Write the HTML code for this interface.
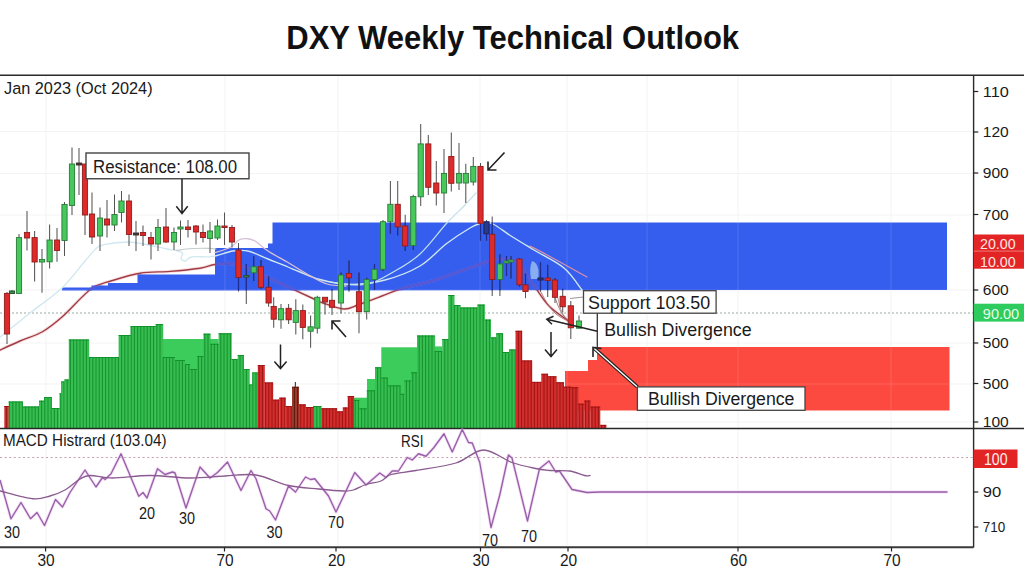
<!DOCTYPE html>
<html><head><meta charset="utf-8"><title>DXY Weekly Technical Outlook</title>
<style>html,body{margin:0;padding:0;background:#fff;width:1024px;height:576px;overflow:hidden}svg{display:block}</style>
</head><body>
<svg width="1024" height="576" viewBox="0 0 1024 576" font-family='"Liberation Sans", sans-serif'><g stroke="#f3f3f3" stroke-width="1"><line x1="46" y1="76" x2="46" y2="547" /><line x1="225" y1="76" x2="225" y2="547" /><line x1="338" y1="76" x2="338" y2="547" /><line x1="480" y1="76" x2="480" y2="547" /><line x1="567" y1="76" x2="567" y2="547" /><line x1="647" y1="76" x2="647" y2="547" /><line x1="738" y1="76" x2="738" y2="547" /><line x1="891" y1="76" x2="891" y2="547" /><line x1="0" y1="131.5" x2="973" y2="131.5" /><line x1="0" y1="173.5" x2="973" y2="173.5" /><line x1="0" y1="215" x2="973" y2="215" /><line x1="0" y1="290" x2="973" y2="290" /><line x1="0" y1="343" x2="973" y2="343" /><line x1="0" y1="384" x2="973" y2="384" /><line x1="0" y1="422" x2="973" y2="422" /></g>
<line x1="0" y1="313" x2="973" y2="313" stroke="#9aaa9e" stroke-width="1" stroke-dasharray="2,2"/>
<defs><clipPath id="bz"><polygon points="62,290.5 62,287.5 91.5,287.5 91.5,285.5 108,285.5 108,283 137.5,283 137.5,274.5 215,274.5 215,248 268,248 268,243.5 272.5,243.5 272.5,222.5 947,222.5 947,290 62,290.5"/></clipPath></defs>
<polygon fill="#365eee" points="62,290.5 62,287.5 91.5,287.5 91.5,285.5 108,285.5 108,283 137.5,283 137.5,274.5 215,274.5 215,248 268,248 268,243.5 272.5,243.5 272.5,222.5 947,222.5 947,290 62,290.5"/>
<polygon fill="#fc4a40" points="565,410.5 565,371 588,371 588,360 597,360 597,347 949.5,347 949.5,410.5"/>
<g stroke="#ffffff" stroke-opacity="0.13" stroke-width="1"><line x1="46" y1="222" x2="46" y2="411" /><line x1="225" y1="222" x2="225" y2="411" /><line x1="338" y1="222" x2="338" y2="411" /><line x1="480" y1="222" x2="480" y2="411" /><line x1="567" y1="222" x2="567" y2="411" /><line x1="647" y1="222" x2="647" y2="411" /><line x1="738" y1="222" x2="738" y2="411" /><line x1="891" y1="222" x2="891" y2="411" /><line x1="0" y1="290" x2="973" y2="290" /><line x1="0" y1="343" x2="973" y2="343" /><line x1="0" y1="384" x2="973" y2="384" /></g>
<rect x="163" y="339" width="55.599999999999994" height="89" fill="#3ccc5c"/>
<rect x="354" y="397.7" width="13" height="30.30000000000001" fill="#3ccc5c"/>
<rect x="367" y="379" width="8" height="49" fill="#3ccc5c"/>
<rect x="381.3" y="347.3" width="35.69999999999999" height="80.69999999999999" fill="#3ccc5c"/>
<rect x="434.9" y="346.4" width="7.300000000000011" height="81.60000000000002" fill="#3ccc5c"/>
<rect x="4.3" y="406" width="4.6" height="22" fill="#d22e2e"/>
<rect x="8.7" y="401.5" width="14.0" height="26.5" fill="#38be52"/>
<rect x="22.5" y="406.5" width="16.7" height="21.5" fill="#38be52"/>
<rect x="39" y="400.7" width="5.2" height="27.30000000000001" fill="#38be52"/>
<rect x="44" y="397" width="7.800000000000002" height="31" fill="#38be52"/>
<rect x="51.6" y="408" width="8.099999999999998" height="20" fill="#38be52"/>
<rect x="59.5" y="393.4" width="1.7" height="34.60000000000002" fill="#38be52"/>
<rect x="61" y="381.5" width="3.600000000000006" height="46.5" fill="#38be52"/>
<rect x="64.4" y="379.5" width="4.599999999999992" height="48.5" fill="#38be52"/>
<rect x="68.8" y="339.5" width="20.400000000000002" height="88.5" fill="#38be52"/>
<rect x="89" y="357" width="29.799999999999994" height="71" fill="#38be52"/>
<rect x="118.6" y="335" width="12.299999999999994" height="93" fill="#38be52"/>
<rect x="130.7" y="326" width="25.2" height="102" fill="#38be52"/>
<rect x="155.7" y="324" width="7.5000000000000115" height="104" fill="#38be52"/>
<rect x="163" y="357" width="12.2" height="71" fill="#38be52"/>
<rect x="175" y="360" width="10.2" height="68" fill="#38be52"/>
<rect x="185" y="364" width="5.2" height="64" fill="#38be52"/>
<rect x="190" y="369" width="7.2" height="59" fill="#38be52"/>
<rect x="197" y="356" width="6.7" height="72" fill="#38be52"/>
<rect x="203.5" y="333.7" width="7.100000000000006" height="94.30000000000001" fill="#38be52"/>
<rect x="210.4" y="343.8" width="8.399999999999988" height="84.19999999999999" fill="#38be52"/>
<rect x="218.6" y="333.3" width="13.100000000000005" height="94.69999999999999" fill="#38be52"/>
<rect x="231.5" y="359" width="6.399999999999989" height="69" fill="#38be52"/>
<rect x="237.7" y="355" width="6.100000000000006" height="73" fill="#38be52"/>
<rect x="243.6" y="369" width="6.100000000000006" height="59" fill="#38be52"/>
<rect x="249.5" y="384.5" width="3.100000000000006" height="43.5" fill="#38be52"/>
<rect x="252.4" y="372.5" width="5.600000000000006" height="55.5" fill="#38be52"/>
<rect x="257.8" y="365" width="7.0000000000000115" height="63" fill="#d22e2e"/>
<rect x="264.6" y="382.5" width="8.599999999999977" height="45.5" fill="#d22e2e"/>
<rect x="273" y="399.7" width="6.5000000000000115" height="28.30000000000001" fill="#d22e2e"/>
<rect x="279.3" y="397.7" width="6.399999999999989" height="30.30000000000001" fill="#d22e2e"/>
<rect x="285.5" y="406" width="6.7" height="22" fill="#d22e2e"/>
<rect x="292" y="386.8" width="7.0000000000000115" height="41.19999999999999" fill="#9a3a2a"/>
<rect x="298.8" y="404.4" width="7.099999999999977" height="23.600000000000023" fill="#d22e2e"/>
<rect x="305.7" y="407" width="8.00000000000001" height="21" fill="#d22e2e"/>
<rect x="313.5" y="406" width="8.00000000000001" height="22" fill="#38be52"/>
<rect x="321.3" y="408.3" width="15.899999999999988" height="19.69999999999999" fill="#d22e2e"/>
<rect x="337" y="411.4" width="6.0000000000000115" height="16.600000000000023" fill="#d22e2e"/>
<rect x="342.8" y="407.5" width="5.099999999999977" height="20.5" fill="#d22e2e"/>
<rect x="347.7" y="396" width="6.5000000000000115" height="32" fill="#d22e2e"/>
<rect x="354" y="400" width="5.599999999999977" height="28" fill="#38be52"/>
<rect x="359.4" y="408.3" width="7.600000000000034" height="19.69999999999999" fill="#38be52"/>
<rect x="366.8" y="390.3" width="8.399999999999988" height="37.69999999999999" fill="#38be52"/>
<rect x="375" y="367.3" width="6.5000000000000115" height="60.69999999999999" fill="#38be52"/>
<rect x="381.3" y="377.6" width="6.599999999999977" height="50.39999999999998" fill="#38be52"/>
<rect x="387.7" y="385.4" width="12.899999999999988" height="42.60000000000002" fill="#38be52"/>
<rect x="400.4" y="393.8" width="4.100000000000034" height="34.19999999999999" fill="#38be52"/>
<rect x="404.3" y="380.5" width="7.0000000000000115" height="47.5" fill="#38be52"/>
<rect x="411.1" y="372.3" width="6.099999999999977" height="55.69999999999999" fill="#38be52"/>
<rect x="417" y="335.5" width="18.099999999999977" height="92.5" fill="#38be52"/>
<rect x="434.9" y="351" width="7.5000000000000115" height="77" fill="#38be52"/>
<rect x="442.2" y="339" width="6.2" height="89" fill="#38be52"/>
<rect x="448.2" y="295" width="6.300000000000023" height="133" fill="#38be52"/>
<rect x="454.3" y="305" width="6.299999999999966" height="123" fill="#38be52"/>
<rect x="460.4" y="307.5" width="17.2" height="120.5" fill="#38be52"/>
<rect x="477.4" y="304.6" width="7.5000000000000115" height="123.39999999999998" fill="#38be52"/>
<rect x="484.7" y="319.6" width="6.300000000000023" height="108.39999999999998" fill="#38be52"/>
<rect x="490.8" y="337.4" width="5.5000000000000115" height="90.60000000000002" fill="#38be52"/>
<rect x="496.1" y="333.3" width="6.999999999999955" height="94.69999999999999" fill="#38be52"/>
<rect x="502.9" y="352" width="6.300000000000023" height="76" fill="#38be52"/>
<rect x="509" y="349.5" width="6.7" height="78.5" fill="#38be52"/>
<rect x="515.5" y="330.8" width="6.599999999999977" height="97.19999999999999" fill="#d22e2e"/>
<rect x="521.9" y="360.5" width="10.300000000000022" height="67.5" fill="#d22e2e"/>
<rect x="532" y="381.9" width="9.499999999999954" height="46.10000000000002" fill="#d22e2e"/>
<rect x="541.3" y="373.8" width="6.800000000000023" height="54.19999999999999" fill="#d22e2e"/>
<rect x="547.9" y="376.3" width="8.7" height="51.69999999999999" fill="#d22e2e"/>
<rect x="556.4" y="382.3" width="7.500000000000068" height="45.69999999999999" fill="#d22e2e"/>
<rect x="563.7" y="386.7" width="7.499999999999955" height="41.30000000000001" fill="#d22e2e"/>
<rect x="571" y="387.2" width="7.400000000000046" height="40.80000000000001" fill="#d22e2e"/>
<rect x="578.2" y="403.7" width="6.299999999999909" height="24.30000000000001" fill="#d22e2e"/>
<rect x="584.3" y="400.6" width="6.300000000000023" height="27.399999999999977" fill="#d22e2e"/>
<rect x="590.4" y="406.6" width="9.900000000000045" height="21.399999999999977" fill="#d22e2e"/>
<rect x="600.1" y="424.9" width="6.300000000000023" height="3.1000000000000227" fill="#d22e2e"/>
<path d="M9.60 401.5V428M12.80 401.5V428M16.00 401.5V428M19.20 401.5V428M22.40 401.5V428M8.7 402.0H22.5M25.60 406.5V428M28.80 406.5V428M32.00 406.5V428M35.20 406.5V428M38.40 406.5V428M22.5 407.0H39M41.60 400.7V428M39 401.2H44M44.80 397V428M48.00 397V428M51.20 397V428M44 397.5H51.6M54.40 408V428M57.60 408V428M51.6 408.5H59.5M60.80 393.4V428M59.5 393.9H61M64.00 381.5V428M61 382.0H64.4M67.20 379.5V428M64.4 380.0H68.8M70.40 339.5V428M73.60 339.5V428M76.80 339.5V428M80.00 339.5V428M83.20 339.5V428M86.40 339.5V428M68.8 340.0H89M89.60 357V428M92.80 357V428M96.00 357V428M99.20 357V428M102.40 357V428M105.60 357V428M108.80 357V428M112.00 357V428M115.20 357V428M118.40 357V428M89 357.5H118.6M121.60 335V428M124.80 335V428M128.00 335V428M118.6 335.5H130.7M131.20 326V428M134.40 326V428M137.60 326V428M140.80 326V428M144.00 326V428M147.20 326V428M150.40 326V428M153.60 326V428M130.7 326.5H155.7M156.80 324V428M160.00 324V428M155.7 324.5H163M163.20 357V428M166.40 357V428M169.60 357V428M172.80 357V428M163 357.5H175M176.00 360V428M179.20 360V428M182.40 360V428M175 360.5H185M185.60 364V428M188.80 364V428M185 364.5H190M192.00 369V428M195.20 369V428M190 369.5H197M198.40 356V428M201.60 356V428M197 356.5H203.5M204.80 333.7V428M208.00 333.7V428M203.5 334.2H210.4M211.20 343.8V428M214.40 343.8V428M217.60 343.8V428M210.4 344.3H218.6M220.80 333.3V428M224.00 333.3V428M227.20 333.3V428M230.40 333.3V428M218.6 333.8H231.5M233.60 359V428M236.80 359V428M231.5 359.5H237.7M240.00 355V428M243.20 355V428M237.7 355.5H243.6M246.40 369V428M243.6 369.5H249.5M249.60 384.5V428M249.5 385.0H252.4M252.80 372.5V428M256.00 372.5V428M252.4 373.0H257.8M313.60 406V428M316.80 406V428M320.00 406V428M313.5 406.5H321.3M355.20 400V428M358.40 400V428M354 400.5H359.4M361.60 408.3V428M364.80 408.3V428M359.4 408.8H366.8M368.00 390.3V428M371.20 390.3V428M374.40 390.3V428M366.8 390.8H375M377.60 367.3V428M380.80 367.3V428M375 367.8H381.3M384.00 377.6V428M387.20 377.6V428M381.3 378.1H387.7M390.40 385.4V428M393.60 385.4V428M396.80 385.4V428M400.00 385.4V428M387.7 385.9H400.4M403.20 393.8V428M400.4 394.3H404.3M406.40 380.5V428M409.60 380.5V428M404.3 381.0H411.1M412.80 372.3V428M416.00 372.3V428M411.1 372.8H417M419.20 335.5V428M422.40 335.5V428M425.60 335.5V428M428.80 335.5V428M432.00 335.5V428M417 336.0H434.9M435.20 351V428M438.40 351V428M441.60 351V428M434.9 351.5H442.2M444.80 339V428M448.00 339V428M442.2 339.5H448.2M451.20 295V428M448.2 295.5H454.3M454.40 305V428M457.60 305V428M454.3 305.5H460.4M460.80 307.5V428M464.00 307.5V428M467.20 307.5V428M470.40 307.5V428M473.60 307.5V428M476.80 307.5V428M460.4 308.0H477.4M480.00 304.6V428M483.20 304.6V428M477.4 305.1H484.7M486.40 319.6V428M489.60 319.6V428M484.7 320.1H490.8M492.80 337.4V428M496.00 337.4V428M490.8 337.9H496.1M499.20 333.3V428M502.40 333.3V428M496.1 333.8H502.9M505.60 352V428M508.80 352V428M502.9 352.5H509M512.00 349.5V428M515.20 349.5V428M509 350.0H515.5" stroke="#12922b" stroke-width="1" fill="none"/>
<path d="M6.40 406V428M4.3 406.5H8.7M259.20 365V428M262.40 365V428M257.8 365.5H264.6M265.60 382.5V428M268.80 382.5V428M272.00 382.5V428M264.6 383.0H273M275.20 399.7V428M278.40 399.7V428M273 400.2H279.3M281.60 397.7V428M284.80 397.7V428M279.3 398.2H285.5M288.00 406V428M291.20 406V428M285.5 406.5H292M300.80 404.4V428M304.00 404.4V428M298.8 404.9H305.7M307.20 407V428M310.40 407V428M305.7 407.5H313.5M323.20 408.3V428M326.40 408.3V428M329.60 408.3V428M332.80 408.3V428M336.00 408.3V428M321.3 408.8H337M339.20 411.4V428M342.40 411.4V428M337 411.9H342.8M345.60 407.5V428M342.8 408.0H347.7M348.80 396V428M352.00 396V428M347.7 396.5H354M518.40 330.8V428M521.60 330.8V428M515.5 331.3H521.9M524.80 360.5V428M528.00 360.5V428M531.20 360.5V428M521.9 361.0H532M534.40 381.9V428M537.60 381.9V428M540.80 381.9V428M532 382.4H541.3M544.00 373.8V428M547.20 373.8V428M541.3 374.3H547.9M550.40 376.3V428M553.60 376.3V428M547.9 376.8H556.4M556.80 382.3V428M560.00 382.3V428M563.20 382.3V428M556.4 382.8H563.7M566.40 386.7V428M569.60 386.7V428M563.7 387.2H571M572.80 387.2V428M576.00 387.2V428M571 387.7H578.2M579.20 403.7V428M582.40 403.7V428M578.2 404.2H584.3M585.60 400.6V428M588.80 400.6V428M584.3 401.1H590.4M592.00 406.6V428M595.20 406.6V428M598.40 406.6V428M590.4 407.1H600.1M601.60 424.9V428M604.80 424.9V428M600.1 425.4H606.2" stroke="#a01414" stroke-width="1" fill="none"/>
<path d="M294.40 386.8V428M297.60 386.8V428M292 387.3H298.8" stroke="#5a1a14" stroke-width="1" fill="none"/>
<line x1="295.4" y1="382" x2="295.4" y2="387" stroke="#6a3a30" stroke-width="1.2"/>
<path d="M0,337 C5.0,333.0 19.7,321.2 30,313 C40.3,304.8 52.8,296.7 62,288 C71.2,279.3 79.0,267.8 85,261 C91.0,254.2 93.7,249.9 98,247 C102.3,244.1 105.8,244.3 111,243.5 C116.2,242.7 122.7,241.8 129,242 C135.3,242.2 142.7,243.8 149,245 C155.3,246.2 162.5,248.1 167,249 C171.5,249.9 173.4,249.8 176,250.5 C178.6,251.2 181.7,251.7 182.5,253 C183.3,254.3 180.6,257.2 181,258.5 C181.4,259.8 183.5,261.2 185,261 C186.5,260.8 188.0,258.2 190,257.5 C192.0,256.8 193.3,256.8 197,256.6 C200.7,256.5 206.0,257.5 212,256.6 C218.0,255.7 227.0,251.9 233,251 C239.0,250.1 242.2,249.7 248,251 C253.8,252.3 261.3,256.3 268,259 C274.7,261.7 282.7,264.8 288,267 C293.3,269.2 294.7,269.9 300,272 C305.3,274.1 311.8,277.4 320,279.5 C328.2,281.6 338.2,284.4 349,284.5 C359.8,284.6 373.2,283.1 385,280 C396.8,276.9 409.8,272.0 420,266 C430.2,260.0 437.7,250.3 446,244 C454.3,237.7 464.0,231.5 470,228 C476.0,224.5 478.2,223.7 482,223 C485.8,222.3 488.2,221.8 493,224 C497.8,226.2 504.2,231.7 511,236 C517.8,240.3 525.2,244.7 534,250 C542.8,255.3 556.0,261.3 564,268 C572.0,274.7 579.0,286.3 582,290" fill="none" stroke="#d0e8f0" stroke-width="1.35" stroke-opacity="1" stroke-linejoin="round" stroke-linecap="round"/>
<path d="M330,282 C336.0,282.4 355.2,286.3 366,284.5 C376.8,282.7 386.0,276.1 395,271 C404.0,265.9 411.5,261.8 420,254 C428.5,246.2 438.7,232.0 446,224 C453.3,216.0 459.0,211.2 464,206 C469.0,200.8 474.0,195.2 476,193" fill="none" stroke="#c0e0ea" stroke-width="1.2" stroke-opacity="1" stroke-linejoin="round" stroke-linecap="round"/>
<path d="M176,250.5 C178.2,250.2 183.5,249.0 189,248.7 C194.5,248.3 204.5,248.3 209,248.4 C213.5,248.5 214.8,248.9 216,249" fill="none" stroke="#c4cccc" stroke-width="1.1" stroke-opacity="1" stroke-linejoin="round" stroke-linecap="round"/>
<path d="M215,252.7 C217.7,251.8 227.0,249.1 231,247 C235.0,244.9 236.3,241.4 239,240 C241.7,238.6 244.3,238.5 247,238.7 C249.7,238.9 251.5,238.9 255,241 C258.5,243.1 262.5,247.4 268,251 C273.5,254.6 281.5,258.7 288,262.5 C294.5,266.3 300.5,270.4 307,274 C313.5,277.6 320.5,282.0 327,284 C333.5,286.0 342.8,285.7 346,286" fill="none" stroke="#d8c0d8" stroke-width="1.3" stroke-opacity="1" stroke-linejoin="round" stroke-linecap="round"/>
<path d="M530,246 C533.2,247.7 539.5,250.8 549,256 C558.5,261.2 580.7,273.5 587,277" fill="none" stroke="#d890a8" stroke-width="1.2" stroke-opacity="1" stroke-linejoin="round" stroke-linecap="round"/>
<path d="M0,350 C3.3,348.5 13.0,344.0 20,341 C27.0,338.0 35.0,336.0 42,332 C49.0,328.0 53.8,324.2 62,317 C70.2,309.8 82.8,295.0 91,289 C99.2,283.0 102.8,283.6 111,281 C119.2,278.4 130.2,274.8 140,273.2 C149.8,271.6 160.0,272.2 170,271.4 C180.0,270.6 192.5,269.3 200,268.2 C207.5,267.1 209.2,265.2 215,264.5 C220.8,263.8 227.8,262.6 235,264 C242.2,265.4 249.2,269.2 258,273 C266.8,276.8 278.7,282.7 288,287 C297.3,291.3 308.2,296.3 314,299 C319.8,301.7 318.0,301.3 323,303 C328.0,304.7 338.0,308.8 344,309 C350.0,309.2 352.7,306.7 359,304.5 C365.3,302.3 374.8,298.7 382,296 C389.2,293.3 394.2,290.9 402.5,288.4 C410.8,285.9 422.2,283.9 432,281 C441.8,278.1 452.7,273.9 461,271 C469.3,268.1 475.7,265.5 482,263.5 C488.3,261.5 493.2,259.2 499,259 C504.8,258.8 511.2,257.6 517,262 C522.8,266.4 528.7,278.2 534,285.5 C539.3,292.8 543.0,299.9 549,306 C555.0,312.1 566.5,319.3 570,322" fill="none" stroke="#f4c8cc" stroke-width="3.2" stroke-opacity="0.6" stroke-linejoin="round" stroke-linecap="round"/>
<path d="M0,350 C3.3,348.5 13.0,344.0 20,341 C27.0,338.0 35.0,336.0 42,332 C49.0,328.0 53.8,324.2 62,317 C70.2,309.8 82.8,295.0 91,289 C99.2,283.0 102.8,283.6 111,281 C119.2,278.4 130.2,274.8 140,273.2 C149.8,271.6 160.0,272.2 170,271.4 C180.0,270.6 192.5,269.3 200,268.2 C207.5,267.1 209.2,265.2 215,264.5 C220.8,263.8 227.8,262.6 235,264 C242.2,265.4 249.2,269.2 258,273 C266.8,276.8 278.7,282.7 288,287 C297.3,291.3 308.2,296.3 314,299 C319.8,301.7 318.0,301.3 323,303 C328.0,304.7 338.0,308.8 344,309 C350.0,309.2 352.7,306.7 359,304.5 C365.3,302.3 374.8,298.7 382,296 C389.2,293.3 394.2,290.9 402.5,288.4 C410.8,285.9 422.2,283.9 432,281 C441.8,278.1 452.7,273.9 461,271 C469.3,268.1 475.7,265.5 482,263.5 C488.3,261.5 493.2,259.2 499,259 C504.8,258.8 511.2,257.6 517,262 C522.8,266.4 528.7,278.2 534,285.5 C539.3,292.8 543.0,299.9 549,306 C555.0,312.1 566.5,319.3 570,322" fill="none" stroke="#a03c44" stroke-width="1.4" stroke-opacity="1" stroke-linejoin="round" stroke-linecap="round"/>
<path d="M0,350 C3.3,348.5 13.0,344.0 20,341 C27.0,338.0 35.0,336.0 42,332 C49.0,328.0 53.8,324.2 62,317 C70.2,309.8 82.8,295.0 91,289 C99.2,283.0 102.8,283.6 111,281 C119.2,278.4 130.2,274.8 140,273.2 C149.8,271.6 160.0,272.2 170,271.4 C180.0,270.6 192.5,269.3 200,268.2 C207.5,267.1 209.2,265.2 215,264.5 C220.8,263.8 227.8,262.6 235,264 C242.2,265.4 249.2,269.2 258,273 C266.8,276.8 278.7,282.7 288,287 C297.3,291.3 308.2,296.3 314,299 C319.8,301.7 318.0,301.3 323,303 C328.0,304.7 338.0,308.8 344,309 C350.0,309.2 352.7,306.7 359,304.5 C365.3,302.3 374.8,298.7 382,296 C389.2,293.3 394.2,290.9 402.5,288.4 C410.8,285.9 422.2,283.9 432,281 C441.8,278.1 452.7,273.9 461,271 C469.3,268.1 475.7,265.5 482,263.5 C488.3,261.5 493.2,259.2 499,259 C504.8,258.8 511.2,257.6 517,262 C522.8,266.4 528.7,278.2 534,285.5 C539.3,292.8 543.0,299.9 549,306 C555.0,312.1 566.5,319.3 570,322" fill="none" stroke="#365eee" stroke-width="3.8" stroke-opacity="1" stroke-linejoin="round" stroke-linecap="round" clip-path="url(#bz)"/>
<path d="M0,350 C3.3,348.5 13.0,344.0 20,341 C27.0,338.0 35.0,336.0 42,332 C49.0,328.0 53.8,324.2 62,317 C70.2,309.8 82.8,295.0 91,289 C99.2,283.0 102.8,283.6 111,281 C119.2,278.4 130.2,274.8 140,273.2 C149.8,271.6 160.0,272.2 170,271.4 C180.0,270.6 192.5,269.3 200,268.2 C207.5,267.1 209.2,265.2 215,264.5 C220.8,263.8 227.8,262.6 235,264 C242.2,265.4 249.2,269.2 258,273 C266.8,276.8 278.7,282.7 288,287 C297.3,291.3 308.2,296.3 314,299 C319.8,301.7 318.0,301.3 323,303 C328.0,304.7 338.0,308.8 344,309 C350.0,309.2 352.7,306.7 359,304.5 C365.3,302.3 374.8,298.7 382,296 C389.2,293.3 394.2,290.9 402.5,288.4 C410.8,285.9 422.2,283.9 432,281 C441.8,278.1 452.7,273.9 461,271 C469.3,268.1 475.7,265.5 482,263.5 C488.3,261.5 493.2,259.2 499,259 C504.8,258.8 511.2,257.6 517,262 C522.8,266.4 528.7,278.2 534,285.5 C539.3,292.8 543.0,299.9 549,306 C555.0,312.1 566.5,319.3 570,322" fill="none" stroke="#9a4a9a" stroke-width="2.4" stroke-opacity="0.35" stroke-linejoin="round" stroke-linecap="round" clip-path="url(#bz)"/>
<path d="M540,290 C541.2,292.2 544.3,299.0 547,303 C549.7,307.0 552.2,310.8 556,314 C559.8,317.2 567.7,320.7 570,322" fill="none" stroke="#b07070" stroke-width="0.9" stroke-opacity="1" stroke-linejoin="round" stroke-linecap="round"/>
<path d="M553,290 C553.7,292.2 555.3,298.8 557,303 C558.7,307.2 560.5,311.7 563,315 C565.5,318.3 570.5,321.7 572,323" fill="none" stroke="#a07070" stroke-width="0.9" stroke-opacity="1" stroke-linejoin="round" stroke-linecap="round"/>
<path d="M558,298 C558.5,300.0 559.7,306.7 561,310 C562.3,313.3 564.0,315.7 566,318 C568.0,320.3 571.8,323.0 573,324" fill="none" stroke="#a08080" stroke-width="0.8" stroke-opacity="1" stroke-linejoin="round" stroke-linecap="round"/>
<path d="M532,261 Q537,262 538.5,270 L538.5,279 L531,279 Q529,268 532,261 Z" fill="#9ec0f0" opacity="0.8"/>
<line x1="7" y1="292" x2="7" y2="344" stroke="#555" stroke-width="1.05"/>
<line x1="7" y1="292" x2="7" y2="344" stroke="#1e2e90" stroke-width="1.3" clip-path="url(#bz)"/>
<rect x="4.4" y="293.4" width="5.2" height="40.60000000000002" fill="#de2a2a" stroke="#901c1c" stroke-width="0.9"/>
<line x1="12" y1="290" x2="12" y2="294" stroke="#555" stroke-width="1.05"/>
<line x1="12" y1="290" x2="12" y2="294" stroke="#1e2e90" stroke-width="1.3" clip-path="url(#bz)"/>
<rect x="9.4" y="291" width="5.2" height="2.5" fill="#3a8a4a" stroke="#2a4a30" stroke-width="0.9"/>
<line x1="19" y1="234" x2="19" y2="294" stroke="#555" stroke-width="1.05"/>
<line x1="19" y1="234" x2="19" y2="294" stroke="#1e2e90" stroke-width="1.3" clip-path="url(#bz)"/>
<rect x="16.4" y="237.6" width="5.2" height="55.79999999999998" fill="#46c85a" stroke="#2a7a3a" stroke-width="0.9"/>
<line x1="27" y1="211" x2="27" y2="250.5" stroke="#555" stroke-width="1.05"/>
<line x1="27" y1="211" x2="27" y2="250.5" stroke="#1e2e90" stroke-width="1.3" clip-path="url(#bz)"/>
<rect x="24.4" y="232.4" width="5.2" height="5.599999999999994" fill="#de2a2a" stroke="#901c1c" stroke-width="0.9"/>
<line x1="34.6" y1="231" x2="34.6" y2="281.4" stroke="#555" stroke-width="1.05"/>
<line x1="34.6" y1="231" x2="34.6" y2="281.4" stroke="#1e2e90" stroke-width="1.3" clip-path="url(#bz)"/>
<rect x="32.0" y="237.6" width="5.2" height="24.400000000000006" fill="#de2a2a" stroke="#901c1c" stroke-width="0.9"/>
<line x1="42" y1="249" x2="42" y2="292.7" stroke="#555" stroke-width="1.05"/>
<line x1="42" y1="249" x2="42" y2="292.7" stroke="#1e2e90" stroke-width="1.3" clip-path="url(#bz)"/>
<rect x="39.4" y="259.5" width="5.2" height="2.5" fill="#46c85a" stroke="#2a7a3a" stroke-width="0.9"/>
<line x1="49.6" y1="224.5" x2="49.6" y2="268.5" stroke="#555" stroke-width="1.05"/>
<line x1="49.6" y1="224.5" x2="49.6" y2="268.5" stroke="#1e2e90" stroke-width="1.3" clip-path="url(#bz)"/>
<rect x="47.0" y="240" width="5.2" height="21.80000000000001" fill="#46c85a" stroke="#2a7a3a" stroke-width="0.9"/>
<line x1="57" y1="228" x2="57" y2="261.8" stroke="#555" stroke-width="1.05"/>
<line x1="57" y1="228" x2="57" y2="261.8" stroke="#1e2e90" stroke-width="1.3" clip-path="url(#bz)"/>
<rect x="54.4" y="240" width="5.2" height="10.5" fill="#de2a2a" stroke="#901c1c" stroke-width="0.9"/>
<line x1="64.5" y1="202" x2="64.5" y2="256" stroke="#555" stroke-width="1.05"/>
<line x1="64.5" y1="202" x2="64.5" y2="256" stroke="#1e2e90" stroke-width="1.3" clip-path="url(#bz)"/>
<rect x="61.9" y="204.5" width="5.2" height="36.0" fill="#46c85a" stroke="#2a7a3a" stroke-width="0.9"/>
<line x1="72" y1="147.5" x2="72" y2="215" stroke="#555" stroke-width="1.05"/>
<line x1="72" y1="147.5" x2="72" y2="215" stroke="#1e2e90" stroke-width="1.3" clip-path="url(#bz)"/>
<rect x="69.4" y="164" width="5.2" height="41.5" fill="#46c85a" stroke="#2a7a3a" stroke-width="0.9"/>
<line x1="79" y1="148" x2="79" y2="195" stroke="#555" stroke-width="1.05"/>
<line x1="79" y1="148" x2="79" y2="195" stroke="#1e2e90" stroke-width="1.3" clip-path="url(#bz)"/>
<rect x="76.4" y="163" width="5.2" height="2" fill="#4a3a3a" stroke="#3a2a2a" stroke-width="0.9"/>
<line x1="85" y1="164" x2="85" y2="235" stroke="#555" stroke-width="1.05"/>
<line x1="85" y1="164" x2="85" y2="235" stroke="#1e2e90" stroke-width="1.3" clip-path="url(#bz)"/>
<rect x="82.4" y="164" width="5.2" height="51" fill="#de2a2a" stroke="#901c1c" stroke-width="0.9"/>
<line x1="92" y1="192.5" x2="92" y2="244" stroke="#555" stroke-width="1.05"/>
<line x1="92" y1="192.5" x2="92" y2="244" stroke="#1e2e90" stroke-width="1.3" clip-path="url(#bz)"/>
<rect x="89.4" y="214" width="5.2" height="23" fill="#de2a2a" stroke="#901c1c" stroke-width="0.9"/>
<line x1="100" y1="207.5" x2="100" y2="251" stroke="#555" stroke-width="1.05"/>
<line x1="100" y1="207.5" x2="100" y2="251" stroke="#1e2e90" stroke-width="1.3" clip-path="url(#bz)"/>
<rect x="97.4" y="218" width="5.2" height="18" fill="#46c85a" stroke="#2a7a3a" stroke-width="0.9"/>
<line x1="107" y1="200" x2="107" y2="237.5" stroke="#555" stroke-width="1.05"/>
<line x1="107" y1="200" x2="107" y2="237.5" stroke="#1e2e90" stroke-width="1.3" clip-path="url(#bz)"/>
<rect x="104.4" y="219" width="5.2" height="6" fill="#de2a2a" stroke="#901c1c" stroke-width="0.9"/>
<line x1="114.5" y1="194.5" x2="114.5" y2="231" stroke="#555" stroke-width="1.05"/>
<line x1="114.5" y1="194.5" x2="114.5" y2="231" stroke="#1e2e90" stroke-width="1.3" clip-path="url(#bz)"/>
<rect x="111.9" y="214.5" width="5.2" height="10.5" fill="#46c85a" stroke="#2a7a3a" stroke-width="0.9"/>
<line x1="121.5" y1="191" x2="121.5" y2="222.5" stroke="#555" stroke-width="1.05"/>
<line x1="121.5" y1="191" x2="121.5" y2="222.5" stroke="#1e2e90" stroke-width="1.3" clip-path="url(#bz)"/>
<rect x="118.9" y="201" width="5.2" height="11.5" fill="#46c85a" stroke="#2a7a3a" stroke-width="0.9"/>
<line x1="129" y1="194.5" x2="129" y2="246" stroke="#555" stroke-width="1.05"/>
<line x1="129" y1="194.5" x2="129" y2="246" stroke="#1e2e90" stroke-width="1.3" clip-path="url(#bz)"/>
<rect x="126.4" y="201" width="5.2" height="33.5" fill="#de2a2a" stroke="#901c1c" stroke-width="0.9"/>
<line x1="136" y1="221" x2="136" y2="251" stroke="#555" stroke-width="1.05"/>
<line x1="136" y1="221" x2="136" y2="251" stroke="#1e2e90" stroke-width="1.3" clip-path="url(#bz)"/>
<rect x="133.4" y="233" width="5.2" height="2" fill="#4a3a3a" stroke="#3a2a2a" stroke-width="0.9"/>
<line x1="143" y1="225.5" x2="143" y2="246" stroke="#555" stroke-width="1.05"/>
<line x1="143" y1="225.5" x2="143" y2="246" stroke="#1e2e90" stroke-width="1.3" clip-path="url(#bz)"/>
<rect x="140.4" y="232.5" width="5.2" height="3.0" fill="#de2a2a" stroke="#901c1c" stroke-width="0.9"/>
<line x1="151" y1="232" x2="151" y2="259.5" stroke="#555" stroke-width="1.05"/>
<line x1="151" y1="232" x2="151" y2="259.5" stroke="#1e2e90" stroke-width="1.3" clip-path="url(#bz)"/>
<rect x="148.4" y="237.5" width="5.2" height="6.5" fill="#de2a2a" stroke="#901c1c" stroke-width="0.9"/>
<line x1="158" y1="219" x2="158" y2="251" stroke="#555" stroke-width="1.05"/>
<line x1="158" y1="219" x2="158" y2="251" stroke="#1e2e90" stroke-width="1.3" clip-path="url(#bz)"/>
<rect x="155.4" y="227.5" width="5.2" height="16.5" fill="#46c85a" stroke="#2a7a3a" stroke-width="0.9"/>
<line x1="166" y1="208" x2="166" y2="243" stroke="#555" stroke-width="1.05"/>
<line x1="166" y1="208" x2="166" y2="243" stroke="#1e2e90" stroke-width="1.3" clip-path="url(#bz)"/>
<rect x="163.4" y="227" width="5.2" height="15" fill="#de2a2a" stroke="#901c1c" stroke-width="0.9"/>
<line x1="174" y1="227.5" x2="174" y2="250" stroke="#555" stroke-width="1.05"/>
<line x1="174" y1="227.5" x2="174" y2="250" stroke="#1e2e90" stroke-width="1.3" clip-path="url(#bz)"/>
<rect x="171.4" y="232.5" width="5.2" height="9.5" fill="#46c85a" stroke="#2a7a3a" stroke-width="0.9"/>
<line x1="180.5" y1="220.5" x2="180.5" y2="245" stroke="#555" stroke-width="1.05"/>
<line x1="180.5" y1="220.5" x2="180.5" y2="245" stroke="#1e2e90" stroke-width="1.3" clip-path="url(#bz)"/>
<rect x="177.9" y="227" width="5.2" height="2" fill="#46c85a" stroke="#2a7a3a" stroke-width="0.9"/>
<line x1="188" y1="220" x2="188" y2="237.5" stroke="#555" stroke-width="1.05"/>
<line x1="188" y1="220" x2="188" y2="237.5" stroke="#1e2e90" stroke-width="1.3" clip-path="url(#bz)"/>
<rect x="185.4" y="227" width="5.2" height="2.5" fill="#de2a2a" stroke="#901c1c" stroke-width="0.9"/>
<line x1="196" y1="225" x2="196" y2="244.5" stroke="#555" stroke-width="1.05"/>
<line x1="196" y1="225" x2="196" y2="244.5" stroke="#1e2e90" stroke-width="1.3" clip-path="url(#bz)"/>
<rect x="193.4" y="226" width="5.2" height="6" fill="#de2a2a" stroke="#901c1c" stroke-width="0.9"/>
<line x1="203" y1="224.5" x2="203" y2="242.5" stroke="#555" stroke-width="1.05"/>
<line x1="203" y1="224.5" x2="203" y2="242.5" stroke="#1e2e90" stroke-width="1.3" clip-path="url(#bz)"/>
<rect x="200.4" y="232.5" width="5.2" height="5.0" fill="#de2a2a" stroke="#901c1c" stroke-width="0.9"/>
<line x1="210" y1="222" x2="210" y2="253" stroke="#555" stroke-width="1.05"/>
<line x1="210" y1="222" x2="210" y2="253" stroke="#1e2e90" stroke-width="1.3" clip-path="url(#bz)"/>
<rect x="207.4" y="231" width="5.2" height="7.5" fill="#46c85a" stroke="#2a7a3a" stroke-width="0.9"/>
<line x1="217.5" y1="219.5" x2="217.5" y2="240" stroke="#555" stroke-width="1.05"/>
<line x1="217.5" y1="219.5" x2="217.5" y2="240" stroke="#1e2e90" stroke-width="1.3" clip-path="url(#bz)"/>
<rect x="214.9" y="226" width="5.2" height="12" fill="#46c85a" stroke="#2a7a3a" stroke-width="0.9"/>
<line x1="224.5" y1="212.5" x2="224.5" y2="245" stroke="#555" stroke-width="1.05"/>
<line x1="224.5" y1="212.5" x2="224.5" y2="245" stroke="#1e2e90" stroke-width="1.3" clip-path="url(#bz)"/>
<rect x="221.9" y="226" width="5.2" height="1.6" fill="#de2a2a" stroke="#901c1c" stroke-width="0.9"/>
<line x1="232" y1="225" x2="232" y2="247.5" stroke="#555" stroke-width="1.05"/>
<line x1="232" y1="225" x2="232" y2="247.5" stroke="#1e2e90" stroke-width="1.3" clip-path="url(#bz)"/>
<rect x="229.4" y="227.5" width="5.2" height="14.5" fill="#de2a2a" stroke="#901c1c" stroke-width="0.9"/>
<line x1="238.5" y1="243" x2="238.5" y2="291.5" stroke="#555" stroke-width="1.05"/>
<line x1="238.5" y1="243" x2="238.5" y2="291.5" stroke="#1e2e90" stroke-width="1.3" clip-path="url(#bz)"/>
<rect x="235.9" y="250" width="5.2" height="27.5" fill="#de2a2a" stroke="#901c1c" stroke-width="0.9"/>
<line x1="246.3" y1="264" x2="246.3" y2="304" stroke="#555" stroke-width="1.05"/>
<line x1="246.3" y1="264" x2="246.3" y2="304" stroke="#1e2e90" stroke-width="1.3" clip-path="url(#bz)"/>
<rect x="243.70000000000002" y="275.5" width="5.2" height="1.6" fill="#3a8a4a" stroke="#2a4a30" stroke-width="0.9"/>
<line x1="253.7" y1="256.2" x2="253.7" y2="281" stroke="#555" stroke-width="1.05"/>
<line x1="253.7" y1="256.2" x2="253.7" y2="281" stroke="#1e2e90" stroke-width="1.3" clip-path="url(#bz)"/>
<rect x="251.1" y="266.7" width="5.2" height="6.100000000000023" fill="#46c85a" stroke="#2a7a3a" stroke-width="0.9"/>
<line x1="261" y1="260" x2="261" y2="288.7" stroke="#555" stroke-width="1.05"/>
<line x1="261" y1="260" x2="261" y2="288.7" stroke="#1e2e90" stroke-width="1.3" clip-path="url(#bz)"/>
<rect x="258.4" y="266.7" width="5.2" height="20.600000000000023" fill="#de2a2a" stroke="#901c1c" stroke-width="0.9"/>
<line x1="268.6" y1="276.3" x2="268.6" y2="306.8" stroke="#555" stroke-width="1.05"/>
<line x1="268.6" y1="276.3" x2="268.6" y2="306.8" stroke="#1e2e90" stroke-width="1.3" clip-path="url(#bz)"/>
<rect x="266.0" y="287.3" width="5.2" height="15.699999999999989" fill="#de2a2a" stroke="#901c1c" stroke-width="0.9"/>
<line x1="273.7" y1="297.3" x2="273.7" y2="327.8" stroke="#555" stroke-width="1.05"/>
<line x1="273.7" y1="297.3" x2="273.7" y2="327.8" stroke="#1e2e90" stroke-width="1.3" clip-path="url(#bz)"/>
<rect x="271.09999999999997" y="306.4" width="5.2" height="12.800000000000011" fill="#de2a2a" stroke="#901c1c" stroke-width="0.9"/>
<line x1="281" y1="304" x2="281" y2="328.7" stroke="#555" stroke-width="1.05"/>
<line x1="281" y1="304" x2="281" y2="328.7" stroke="#1e2e90" stroke-width="1.3" clip-path="url(#bz)"/>
<rect x="278.4" y="308.7" width="5.2" height="11.100000000000023" fill="#46c85a" stroke="#2a7a3a" stroke-width="0.9"/>
<line x1="288.6" y1="304" x2="288.6" y2="324" stroke="#555" stroke-width="1.05"/>
<line x1="288.6" y1="304" x2="288.6" y2="324" stroke="#1e2e90" stroke-width="1.3" clip-path="url(#bz)"/>
<rect x="286.0" y="308.3" width="5.2" height="11.5" fill="#de2a2a" stroke="#901c1c" stroke-width="0.9"/>
<line x1="295.8" y1="299.2" x2="295.8" y2="334.5" stroke="#555" stroke-width="1.05"/>
<line x1="295.8" y1="299.2" x2="295.8" y2="334.5" stroke="#1e2e90" stroke-width="1.3" clip-path="url(#bz)"/>
<rect x="293.2" y="310.6" width="5.2" height="11.799999999999955" fill="#46c85a" stroke="#2a7a3a" stroke-width="0.9"/>
<line x1="302.8" y1="304.5" x2="302.8" y2="339.2" stroke="#555" stroke-width="1.05"/>
<line x1="302.8" y1="304.5" x2="302.8" y2="339.2" stroke="#1e2e90" stroke-width="1.3" clip-path="url(#bz)"/>
<rect x="300.2" y="310.6" width="5.2" height="16.799999999999955" fill="#de2a2a" stroke="#901c1c" stroke-width="0.9"/>
<line x1="310.6" y1="315.4" x2="310.6" y2="347.8" stroke="#555" stroke-width="1.05"/>
<line x1="310.6" y1="315.4" x2="310.6" y2="347.8" stroke="#1e2e90" stroke-width="1.3" clip-path="url(#bz)"/>
<rect x="308.0" y="326.8" width="5.2" height="4.399999999999977" fill="#46c85a" stroke="#2a7a3a" stroke-width="0.9"/>
<line x1="317.3" y1="295.7" x2="317.3" y2="333.5" stroke="#555" stroke-width="1.05"/>
<line x1="317.3" y1="295.7" x2="317.3" y2="333.5" stroke="#1e2e90" stroke-width="1.3" clip-path="url(#bz)"/>
<rect x="314.7" y="297.3" width="5.2" height="30.899999999999977" fill="#46c85a" stroke="#2a7a3a" stroke-width="0.9"/>
<line x1="325" y1="297" x2="325" y2="314.4" stroke="#555" stroke-width="1.05"/>
<line x1="325" y1="297" x2="325" y2="314.4" stroke="#1e2e90" stroke-width="1.3" clip-path="url(#bz)"/>
<rect x="322.4" y="297.3" width="5.2" height="4.699999999999989" fill="#de2a2a" stroke="#901c1c" stroke-width="0.9"/>
<line x1="332" y1="289" x2="332" y2="315" stroke="#555" stroke-width="1.05"/>
<line x1="332" y1="289" x2="332" y2="315" stroke="#1e2e90" stroke-width="1.3" clip-path="url(#bz)"/>
<rect x="329.4" y="300.3" width="5.2" height="7.0" fill="#de2a2a" stroke="#901c1c" stroke-width="0.9"/>
<line x1="341" y1="272.6" x2="341" y2="313.4" stroke="#555" stroke-width="1.05"/>
<line x1="341" y1="272.6" x2="341" y2="313.4" stroke="#1e2e90" stroke-width="1.3" clip-path="url(#bz)"/>
<rect x="338.4" y="275" width="5.2" height="28" fill="#46c85a" stroke="#2a7a3a" stroke-width="0.9"/>
<line x1="349" y1="260.4" x2="349" y2="291.7" stroke="#555" stroke-width="1.05"/>
<line x1="349" y1="260.4" x2="349" y2="291.7" stroke="#1e2e90" stroke-width="1.3" clip-path="url(#bz)"/>
<rect x="346.4" y="273.4" width="5.2" height="4.400000000000034" fill="#de2a2a" stroke="#901c1c" stroke-width="0.9"/>
<line x1="359" y1="272.6" x2="359" y2="333.3" stroke="#555" stroke-width="1.05"/>
<line x1="359" y1="272.6" x2="359" y2="333.3" stroke="#1e2e90" stroke-width="1.3" clip-path="url(#bz)"/>
<rect x="356.4" y="291.7" width="5.2" height="19.900000000000034" fill="#de2a2a" stroke="#901c1c" stroke-width="0.9"/>
<line x1="366.7" y1="277.8" x2="366.7" y2="319.4" stroke="#555" stroke-width="1.05"/>
<line x1="366.7" y1="277.8" x2="366.7" y2="319.4" stroke="#1e2e90" stroke-width="1.3" clip-path="url(#bz)"/>
<rect x="364.09999999999997" y="279.5" width="5.2" height="32.10000000000002" fill="#46c85a" stroke="#2a7a3a" stroke-width="0.9"/>
<line x1="374.5" y1="264" x2="374.5" y2="290" stroke="#555" stroke-width="1.05"/>
<line x1="374.5" y1="264" x2="374.5" y2="290" stroke="#1e2e90" stroke-width="1.3" clip-path="url(#bz)"/>
<rect x="371.9" y="269.3" width="5.2" height="10.300000000000011" fill="#46c85a" stroke="#2a7a3a" stroke-width="0.9"/>
<line x1="383" y1="220" x2="383" y2="271" stroke="#555" stroke-width="1.05"/>
<line x1="383" y1="220" x2="383" y2="271" stroke="#1e2e90" stroke-width="1.3" clip-path="url(#bz)"/>
<rect x="380.4" y="221.7" width="5.2" height="47.60000000000002" fill="#46c85a" stroke="#2a7a3a" stroke-width="0.9"/>
<line x1="390.4" y1="181" x2="390.4" y2="233.8" stroke="#555" stroke-width="1.05"/>
<line x1="390.4" y1="181" x2="390.4" y2="233.8" stroke="#1e2e90" stroke-width="1.3" clip-path="url(#bz)"/>
<rect x="387.79999999999995" y="204.3" width="5.2" height="17.399999999999977" fill="#46c85a" stroke="#2a7a3a" stroke-width="0.9"/>
<line x1="397.7" y1="181" x2="397.7" y2="235.6" stroke="#555" stroke-width="1.05"/>
<line x1="397.7" y1="181" x2="397.7" y2="235.6" stroke="#1e2e90" stroke-width="1.3" clip-path="url(#bz)"/>
<rect x="395.09999999999997" y="204.3" width="5.2" height="22.599999999999994" fill="#de2a2a" stroke="#901c1c" stroke-width="0.9"/>
<line x1="405.2" y1="214.7" x2="405.2" y2="251" stroke="#555" stroke-width="1.05"/>
<line x1="405.2" y1="214.7" x2="405.2" y2="251" stroke="#1e2e90" stroke-width="1.3" clip-path="url(#bz)"/>
<rect x="402.59999999999997" y="226" width="5.2" height="20" fill="#de2a2a" stroke="#901c1c" stroke-width="0.9"/>
<line x1="413.3" y1="194.8" x2="413.3" y2="250" stroke="#555" stroke-width="1.05"/>
<line x1="413.3" y1="194.8" x2="413.3" y2="250" stroke="#1e2e90" stroke-width="1.3" clip-path="url(#bz)"/>
<rect x="410.7" y="196.5" width="5.2" height="49.099999999999994" fill="#46c85a" stroke="#2a7a3a" stroke-width="0.9"/>
<line x1="420.7" y1="124" x2="420.7" y2="206" stroke="#555" stroke-width="1.05"/>
<line x1="420.7" y1="124" x2="420.7" y2="206" stroke="#1e2e90" stroke-width="1.3" clip-path="url(#bz)"/>
<rect x="418.09999999999997" y="143.9" width="5.2" height="52.900000000000006" fill="#46c85a" stroke="#2a7a3a" stroke-width="0.9"/>
<line x1="428.3" y1="135" x2="428.3" y2="195" stroke="#555" stroke-width="1.05"/>
<line x1="428.3" y1="135" x2="428.3" y2="195" stroke="#1e2e90" stroke-width="1.3" clip-path="url(#bz)"/>
<rect x="425.7" y="143.9" width="5.2" height="43.400000000000006" fill="#de2a2a" stroke="#901c1c" stroke-width="0.9"/>
<line x1="436.3" y1="161" x2="436.3" y2="205.5" stroke="#555" stroke-width="1.05"/>
<line x1="436.3" y1="161" x2="436.3" y2="205.5" stroke="#1e2e90" stroke-width="1.3" clip-path="url(#bz)"/>
<rect x="433.7" y="183" width="5.2" height="10" fill="#de2a2a" stroke="#901c1c" stroke-width="0.9"/>
<line x1="444" y1="149" x2="444" y2="213" stroke="#555" stroke-width="1.05"/>
<line x1="444" y1="149" x2="444" y2="213" stroke="#1e2e90" stroke-width="1.3" clip-path="url(#bz)"/>
<rect x="441.4" y="173.4" width="5.2" height="19.599999999999994" fill="#46c85a" stroke="#2a7a3a" stroke-width="0.9"/>
<line x1="451.3" y1="132.6" x2="451.3" y2="191.6" stroke="#555" stroke-width="1.05"/>
<line x1="451.3" y1="132.6" x2="451.3" y2="191.6" stroke="#1e2e90" stroke-width="1.3" clip-path="url(#bz)"/>
<rect x="448.7" y="156.5" width="5.2" height="26.80000000000001" fill="#de2a2a" stroke="#901c1c" stroke-width="0.9"/>
<line x1="459" y1="143" x2="459" y2="190" stroke="#555" stroke-width="1.05"/>
<line x1="459" y1="143" x2="459" y2="190" stroke="#1e2e90" stroke-width="1.3" clip-path="url(#bz)"/>
<rect x="456.4" y="173.4" width="5.2" height="9.599999999999994" fill="#46c85a" stroke="#2a7a3a" stroke-width="0.9"/>
<line x1="465.8" y1="163.8" x2="465.8" y2="203" stroke="#555" stroke-width="1.05"/>
<line x1="465.8" y1="163.8" x2="465.8" y2="203" stroke="#1e2e90" stroke-width="1.3" clip-path="url(#bz)"/>
<rect x="463.2" y="173.4" width="5.2" height="9.599999999999994" fill="#46c85a" stroke="#2a7a3a" stroke-width="0.9"/>
<line x1="473.3" y1="157" x2="473.3" y2="185.5" stroke="#555" stroke-width="1.05"/>
<line x1="473.3" y1="157" x2="473.3" y2="185.5" stroke="#1e2e90" stroke-width="1.3" clip-path="url(#bz)"/>
<rect x="470.7" y="166.4" width="5.2" height="15.599999999999994" fill="#46c85a" stroke="#2a7a3a" stroke-width="0.9"/>
<line x1="480.5" y1="163" x2="480.5" y2="240.8" stroke="#555" stroke-width="1.05"/>
<line x1="480.5" y1="163" x2="480.5" y2="240.8" stroke="#1e2e90" stroke-width="1.3" clip-path="url(#bz)"/>
<rect x="477.9" y="166.4" width="5.2" height="57.0" fill="#de2a2a" stroke="#901c1c" stroke-width="0.9"/>
<line x1="486.5" y1="220" x2="486.5" y2="240.8" stroke="#555" stroke-width="1.05"/>
<line x1="486.5" y1="220" x2="486.5" y2="240.8" stroke="#1e2e90" stroke-width="1.3" clip-path="url(#bz)"/>
<rect x="483.9" y="221.7" width="5.2" height="12.100000000000023" fill="#2a3a8a" stroke="#1a2050" stroke-width="0.9"/>
<line x1="492.2" y1="216.5" x2="492.2" y2="296" stroke="#555" stroke-width="1.05"/>
<line x1="492.2" y1="216.5" x2="492.2" y2="296" stroke="#1e2e90" stroke-width="1.3" clip-path="url(#bz)"/>
<rect x="489.59999999999997" y="234.3" width="5.2" height="45.19999999999999" fill="#de2a2a" stroke="#901c1c" stroke-width="0.9"/>
<line x1="499.9" y1="254.3" x2="499.9" y2="296" stroke="#555" stroke-width="1.05"/>
<line x1="499.9" y1="254.3" x2="499.9" y2="296" stroke="#1e2e90" stroke-width="1.3" clip-path="url(#bz)"/>
<rect x="497.29999999999995" y="263.9" width="5.2" height="15.600000000000023" fill="#46c85a" stroke="#2a7a3a" stroke-width="0.9"/>
<line x1="506.5" y1="256" x2="506.5" y2="276" stroke="#555" stroke-width="1.05"/>
<line x1="506.5" y1="256" x2="506.5" y2="276" stroke="#1e2e90" stroke-width="1.3" clip-path="url(#bz)"/>
<rect x="503.9" y="261" width="5.2" height="2" fill="#46c85a" stroke="#2a7a3a" stroke-width="0.9"/>
<line x1="511" y1="256" x2="511" y2="278.6" stroke="#555" stroke-width="1.05"/>
<line x1="511" y1="256" x2="511" y2="278.6" stroke="#1e2e90" stroke-width="1.3" clip-path="url(#bz)"/>
<rect x="508.4" y="260" width="5.2" height="2" fill="#46c85a" stroke="#2a7a3a" stroke-width="0.9"/>
<line x1="519.5" y1="258" x2="519.5" y2="286.8" stroke="#555" stroke-width="1.05"/>
<line x1="519.5" y1="258" x2="519.5" y2="286.8" stroke="#1e2e90" stroke-width="1.3" clip-path="url(#bz)"/>
<rect x="516.9" y="259" width="5.2" height="25.80000000000001" fill="#de2a2a" stroke="#901c1c" stroke-width="0.9"/>
<line x1="525.5" y1="273.4" x2="525.5" y2="298.2" stroke="#555" stroke-width="1.05"/>
<line x1="525.5" y1="273.4" x2="525.5" y2="298.2" stroke="#1e2e90" stroke-width="1.3" clip-path="url(#bz)"/>
<rect x="522.9" y="284.8" width="5.2" height="6.699999999999989" fill="#de2a2a" stroke="#901c1c" stroke-width="0.9"/>
<line x1="540.5" y1="262" x2="540.5" y2="291.5" stroke="#555" stroke-width="1.05"/>
<line x1="540.5" y1="262" x2="540.5" y2="291.5" stroke="#1e2e90" stroke-width="1.3" clip-path="url(#bz)"/>
<rect x="537.9" y="278" width="5.2" height="2" fill="#2a3a8a" stroke="#1a2050" stroke-width="0.9"/>
<line x1="547.7" y1="264.8" x2="547.7" y2="297" stroke="#555" stroke-width="1.05"/>
<line x1="547.7" y1="264.8" x2="547.7" y2="297" stroke="#1e2e90" stroke-width="1.3" clip-path="url(#bz)"/>
<rect x="545.1" y="278" width="5.2" height="2.5" fill="#de2a2a" stroke="#901c1c" stroke-width="0.9"/>
<line x1="555" y1="278" x2="555" y2="303" stroke="#555" stroke-width="1.05"/>
<line x1="555" y1="278" x2="555" y2="303" stroke="#1e2e90" stroke-width="1.3" clip-path="url(#bz)"/>
<rect x="552.4" y="280" width="5.2" height="17.30000000000001" fill="#de2a2a" stroke="#901c1c" stroke-width="0.9"/>
<line x1="562.7" y1="288.7" x2="562.7" y2="312.5" stroke="#555" stroke-width="1.05"/>
<line x1="562.7" y1="288.7" x2="562.7" y2="312.5" stroke="#1e2e90" stroke-width="1.3" clip-path="url(#bz)"/>
<rect x="560.1" y="296.3" width="5.2" height="10.5" fill="#de2a2a" stroke="#901c1c" stroke-width="0.9"/>
<line x1="570.8" y1="301" x2="570.8" y2="339" stroke="#555" stroke-width="1.05"/>
<line x1="570.8" y1="301" x2="570.8" y2="339" stroke="#1e2e90" stroke-width="1.3" clip-path="url(#bz)"/>
<rect x="568.1999999999999" y="305.8" width="5.2" height="22.0" fill="#de2a2a" stroke="#901c1c" stroke-width="0.9"/>
<line x1="579" y1="315.4" x2="579" y2="328.2" stroke="#555" stroke-width="1.05"/>
<line x1="579" y1="315.4" x2="579" y2="328.2" stroke="#1e2e90" stroke-width="1.3" clip-path="url(#bz)"/>
<rect x="576.4" y="321" width="5.2" height="7.199999999999989" fill="#46c85a" stroke="#2a7a3a" stroke-width="0.9"/>
<rect x="86" y="153" width="163" height="25.75" fill="#fff" stroke="#444" stroke-width="1.4"/>
<text x="93" y="172.8" font-size="17.5" font-weight="normal" fill="#1a1a1a" text-anchor="start" textLength="144" lengthAdjust="spacingAndGlyphs">Resistance: 108.00</text>
<path d="M182,179 V213.5 M176.3,206.3 L182,213.5 L187.7,206.3" fill="none" stroke="#222" stroke-width="1.5"/>
<path d="M504.5,152.5 L488,170 M488,161.5 L488,170 L496.5,170" fill="none" stroke="#222" stroke-width="1.6"/>
<path d="M346,337 L332,321 M332,329.5 L332,321 L340.5,321" fill="none" stroke="#222" stroke-width="1.6"/>
<path d="M280.5,344.5 V368.5 M274.4,361.4 L280.5,368.5 L286.6,361.4" fill="none" stroke="#222" stroke-width="1.5"/>
<path d="M551,332 V356.5 M545,349.5 L551,356.5 L557,349.5" fill="none" stroke="#222" stroke-width="1.5"/>
<line x1="570" y1="298.5" x2="583.5" y2="297" stroke="#999" stroke-width="1"/>
<rect x="583.5" y="290.7" width="132.6" height="22.5" fill="#fff" stroke="#444" stroke-width="1.3"/>
<text x="588" y="308.9" font-size="18" font-weight="normal" fill="#1a1a1a" text-anchor="start" textLength="122.2" lengthAdjust="spacingAndGlyphs">Support 103.50</text>
<line x1="597.3" y1="313.2" x2="597.3" y2="347.4" stroke="#333" stroke-width="1.3"/>
<text x="604.2" y="335.5" font-size="18" font-weight="normal" fill="#1a1a1a" text-anchor="start" textLength="147.4" lengthAdjust="spacingAndGlyphs">Bullish Divergence</text>
<path d="M597.3,331.2 L546.8,319.2 M553.5,316.2 L546.8,319.2 L552,324.2" fill="none" stroke="#222" stroke-width="1.5"/>
<path d="M637.4,386.9 L594,348.2" fill="none" stroke="#222" stroke-width="3.6"/>
<path d="M637.4,386.9 L594,348.2" fill="none" stroke="#fff" stroke-width="1.4"/>
<path d="M593,357 L593,347.5 L601.5,348.5" fill="none" stroke="#222" stroke-width="1.6"/>
<rect x="637.4" y="386.9" width="167.6" height="23.4" fill="#fff" stroke="#444" stroke-width="1.3"/>
<text x="648" y="405.2" font-size="18" font-weight="normal" fill="#1a1a1a" text-anchor="start" textLength="146.4" lengthAdjust="spacingAndGlyphs">Bullish Divergence</text>
<line x1="0" y1="75.2" x2="1024" y2="75.2" stroke="#2a2a2a" stroke-width="1.4"/>
<line x1="973.6" y1="75" x2="973.6" y2="547.5" stroke="#2a2a2a" stroke-width="1.4"/>
<line x1="0" y1="428.5" x2="1024" y2="428.5" stroke="#2a2a2a" stroke-width="1.4"/>
<line x1="0" y1="547.2" x2="973.6" y2="547.2" stroke="#3a3a3a" stroke-width="1.9"/>
<line x1="973.6" y1="91.5" x2="978.3" y2="91.5" stroke="#222" stroke-width="1.2"/>
<text x="982.8" y="96.9" font-size="15.4" font-weight="normal" fill="#1a1a1a" text-anchor="start" textLength="26" lengthAdjust="spacingAndGlyphs">110</text>
<line x1="973.6" y1="132" x2="978.3" y2="132" stroke="#222" stroke-width="1.2"/>
<text x="982.8" y="137.4" font-size="15.4" font-weight="normal" fill="#1a1a1a" text-anchor="start" textLength="26" lengthAdjust="spacingAndGlyphs">120</text>
<line x1="973.6" y1="173" x2="978.3" y2="173" stroke="#222" stroke-width="1.2"/>
<text x="982.8" y="178.4" font-size="15.4" font-weight="normal" fill="#1a1a1a" text-anchor="start" textLength="26" lengthAdjust="spacingAndGlyphs">900</text>
<line x1="973.6" y1="214.5" x2="978.3" y2="214.5" stroke="#222" stroke-width="1.2"/>
<text x="982.8" y="219.9" font-size="15.4" font-weight="normal" fill="#1a1a1a" text-anchor="start" textLength="26" lengthAdjust="spacingAndGlyphs">700</text>
<line x1="973.6" y1="290" x2="978.3" y2="290" stroke="#222" stroke-width="1.2"/>
<text x="982.8" y="295.4" font-size="15.4" font-weight="normal" fill="#1a1a1a" text-anchor="start" textLength="26" lengthAdjust="spacingAndGlyphs">600</text>
<line x1="973.6" y1="343" x2="978.3" y2="343" stroke="#222" stroke-width="1.2"/>
<text x="982.8" y="348.4" font-size="15.4" font-weight="normal" fill="#1a1a1a" text-anchor="start" textLength="26" lengthAdjust="spacingAndGlyphs">500</text>
<line x1="973.6" y1="383.5" x2="978.3" y2="383.5" stroke="#222" stroke-width="1.2"/>
<text x="982.8" y="388.9" font-size="15.4" font-weight="normal" fill="#1a1a1a" text-anchor="start" textLength="26" lengthAdjust="spacingAndGlyphs">500</text>
<line x1="973.6" y1="422" x2="978.3" y2="422" stroke="#222" stroke-width="1.2"/>
<text x="982.8" y="427.4" font-size="15.4" font-weight="normal" fill="#1a1a1a" text-anchor="start" textLength="26" lengthAdjust="spacingAndGlyphs">100</text>
<line x1="973.6" y1="492" x2="978.3" y2="492" stroke="#222" stroke-width="1.2"/>
<text x="982.8" y="497.4" font-size="15.4" font-weight="normal" fill="#1a1a1a" text-anchor="start" textLength="18.5" lengthAdjust="spacingAndGlyphs">90</text>
<line x1="973.6" y1="527" x2="978.3" y2="527" stroke="#222" stroke-width="1.2"/>
<text x="982.8" y="532.4" font-size="15.4" font-weight="normal" fill="#1a1a1a" text-anchor="start" textLength="22.5" lengthAdjust="spacingAndGlyphs">710</text>
<rect x="973.7" y="234.5" width="50.3" height="16.4" fill="#e32424"/>
<rect x="973.7" y="250.9" width="50.3" height="17.8" fill="#e32424"/>
<line x1="973.7" y1="251.2" x2="1024" y2="251.2" stroke="#f08080" stroke-width="0.8"/>
<text x="980" y="248.9" font-size="15.5" font-weight="normal" fill="#ffe4e4" text-anchor="start" textLength="35.6" lengthAdjust="spacingAndGlyphs">20.00</text>
<text x="980" y="266.5" font-size="15.5" font-weight="normal" fill="#ffe4e4" text-anchor="start" textLength="35.6" lengthAdjust="spacingAndGlyphs">10.00</text>
<rect x="973.7" y="303.7" width="50.3" height="17.9" fill="#2ecc5e"/>
<text x="982.8" y="319" font-size="15.5" font-weight="normal" fill="#e8ffe8" text-anchor="start" textLength="36.4" lengthAdjust="spacingAndGlyphs">90.00</text>
<rect x="973.5" y="449.5" width="44" height="18.5" fill="#e32424"/>
<text x="984" y="464.5" font-size="16" font-weight="normal" fill="#fff0f0" text-anchor="start" textLength="23.5" lengthAdjust="spacingAndGlyphs">100</text>
<line x1="0" y1="457.5" x2="973" y2="457.5" stroke="#c8a0a8" stroke-width="1.1" stroke-dasharray="2,2.6"/>
<line x1="45.6" y1="547.3" x2="45.6" y2="551.5" stroke="#222" stroke-width="1.2"/>
<text x="46.1" y="566.3" font-size="16" font-weight="normal" fill="#1a1a1a" text-anchor="middle" textLength="17.2" lengthAdjust="spacingAndGlyphs">30</text>
<line x1="224.5" y1="547.3" x2="224.5" y2="551.5" stroke="#222" stroke-width="1.2"/>
<text x="225.0" y="566.3" font-size="16" font-weight="normal" fill="#1a1a1a" text-anchor="middle" textLength="17.2" lengthAdjust="spacingAndGlyphs">70</text>
<line x1="336" y1="547.3" x2="336" y2="551.5" stroke="#222" stroke-width="1.2"/>
<text x="336.5" y="566.3" font-size="16" font-weight="normal" fill="#1a1a1a" text-anchor="middle" textLength="17.2" lengthAdjust="spacingAndGlyphs">20</text>
<line x1="480.5" y1="547.3" x2="480.5" y2="551.5" stroke="#222" stroke-width="1.2"/>
<text x="481.0" y="566.3" font-size="16" font-weight="normal" fill="#1a1a1a" text-anchor="middle" textLength="17.2" lengthAdjust="spacingAndGlyphs">30</text>
<line x1="568" y1="547.3" x2="568" y2="551.5" stroke="#222" stroke-width="1.2"/>
<text x="568.5" y="566.3" font-size="16" font-weight="normal" fill="#1a1a1a" text-anchor="middle" textLength="17.2" lengthAdjust="spacingAndGlyphs">20</text>
<line x1="738" y1="547.3" x2="738" y2="551.5" stroke="#222" stroke-width="1.2"/>
<text x="738.5" y="566.3" font-size="16" font-weight="normal" fill="#1a1a1a" text-anchor="middle" textLength="17.2" lengthAdjust="spacingAndGlyphs">60</text>
<line x1="891.5" y1="547.3" x2="891.5" y2="551.5" stroke="#222" stroke-width="1.2"/>
<text x="892.0" y="566.3" font-size="16" font-weight="normal" fill="#1a1a1a" text-anchor="middle" textLength="17.2" lengthAdjust="spacingAndGlyphs">70</text>
<path d="M0,480 L11,518.75 L21,502.5 L30.5,518.75 L37,512.5 L44.5,525.5 L55.5,499.5 L62.5,507 L70,492.5 L85,470 L96,487 L102.5,477.5 L105,479.5 L111,473.75 L121,453.75 L138.75,496.25 L143,492.5 L147,498 L157.5,468.75 L165,474.5 L172.5,472 L175,473 L186,508 L200,467 L210,478 L217.5,472.5 L227.5,462 L241,490.5 L251,470.5 L256,478.75 L266,508.75 L269.75,511 L275.5,520 L288.5,486 L295.5,492 L305.5,477 L310.5,479.5 L314.75,478.75 L328.5,496 L336,512 L354.75,472.5 L366,485 L379.75,473 L386,477.5 L392.25,471 L398.5,471 L407.25,457.5 L412.25,460 L418.5,453.75 L426,456.25 L433.5,448 L444,433.75 L452.25,452 L462.25,429.5 L468.5,442.5 L472.25,443 L479.75,462.5 L491,527.5 L499.75,495 L508.5,455 L512,458 L527.5,521 L539.5,468.75 L549,461 L555.75,472 L559.5,471 L572,489.5 L587,492.5 L600,492 L947.5,492" fill="none" stroke="#f0b8f0" stroke-width="3" stroke-opacity="0.5" stroke-linejoin="round"/>
<path d="M0,480 L11,518.75 L21,502.5 L30.5,518.75 L37,512.5 L44.5,525.5 L55.5,499.5 L62.5,507 L70,492.5 L85,470 L96,487 L102.5,477.5 L105,479.5 L111,473.75 L121,453.75 L138.75,496.25 L143,492.5 L147,498 L157.5,468.75 L165,474.5 L172.5,472 L175,473 L186,508 L200,467 L210,478 L217.5,472.5 L227.5,462 L241,490.5 L251,470.5 L256,478.75 L266,508.75 L269.75,511 L275.5,520 L288.5,486 L295.5,492 L305.5,477 L310.5,479.5 L314.75,478.75 L328.5,496 L336,512 L354.75,472.5 L366,485 L379.75,473 L386,477.5 L392.25,471 L398.5,471 L407.25,457.5 L412.25,460 L418.5,453.75 L426,456.25 L433.5,448 L444,433.75 L452.25,452 L462.25,429.5 L468.5,442.5 L472.25,443 L479.75,462.5 L491,527.5 L499.75,495 L508.5,455 L512,458 L527.5,521 L539.5,468.75 L549,461 L555.75,472 L559.5,471 L572,489.5 L587,492.5 L600,492 L947.5,492" fill="none" stroke="#9460a6" stroke-width="1.35" stroke-linejoin="round"/>
<path d="M0,491 C5.4,492.3 24.2,497.9 32.5,498.75 C40.8,499.6 44.6,497.5 50,496 C55.4,494.5 60.0,492.8 65,490 C70.0,487.2 75.8,481.4 80,479 C84.2,476.6 84.6,475.7 90,475.5 C95.4,475.3 102.5,478.0 112.5,478 C122.5,478.0 137.1,475.5 150,475.5 C162.9,475.5 177.5,477.9 190,478 C202.5,478.1 214.0,476.5 225,476 C236.0,475.5 245.4,473.4 256,475 C266.6,476.6 278.1,483.2 288.5,485.5 C298.9,487.8 309.3,488.1 318.5,489 C327.7,489.9 337.7,490.8 343.5,491 C349.3,491.2 349.8,491.1 353.5,490 C357.2,488.9 361.4,486.0 366,484.5 C370.6,483.0 376.8,482.7 381,481 C385.2,479.3 385.2,476.2 391,474.5 C396.8,472.8 405.2,472.4 416,470.5 C426.8,468.6 444.8,466.4 456,463 C467.2,459.6 474.2,450.1 483.5,450 C492.8,449.9 503.1,459.4 512,462.5 C520.9,465.6 530.8,467.4 537,468.75 C543.2,470.1 544.1,470.1 549.5,470.5 C554.9,470.9 563.7,470.2 569.5,471 C575.3,471.8 581.1,474.8 584.5,475.5 C587.9,476.2 589.1,475.5 590,475.5" fill="none" stroke="#8a5a90" stroke-width="1.3" stroke-opacity="1" stroke-linejoin="round" stroke-linecap="round"/>
<text x="3" y="446.3" font-size="16.3" font-weight="normal" fill="#1a1a1a" text-anchor="start" textLength="163.5" lengthAdjust="spacingAndGlyphs">MACD Histrard (103.04)</text>
<text x="401" y="446.8" font-size="16.3" font-weight="normal" fill="#1a1a1a" text-anchor="start" textLength="22.5" lengthAdjust="spacingAndGlyphs">RSI</text>
<text x="12" y="537.5" font-size="16" font-weight="normal" fill="#1a1a1a" text-anchor="middle" textLength="16" lengthAdjust="spacingAndGlyphs">30</text>
<text x="147" y="518.5" font-size="16" font-weight="normal" fill="#1a1a1a" text-anchor="middle" textLength="16" lengthAdjust="spacingAndGlyphs">20</text>
<text x="187" y="524" font-size="16" font-weight="normal" fill="#1a1a1a" text-anchor="middle" textLength="16" lengthAdjust="spacingAndGlyphs">30</text>
<text x="274.5" y="537.5" font-size="16" font-weight="normal" fill="#1a1a1a" text-anchor="middle" textLength="16" lengthAdjust="spacingAndGlyphs">30</text>
<text x="336" y="528" font-size="16" font-weight="normal" fill="#1a1a1a" text-anchor="middle" textLength="16" lengthAdjust="spacingAndGlyphs">70</text>
<text x="490" y="546" font-size="16" font-weight="normal" fill="#1a1a1a" text-anchor="middle" textLength="16" lengthAdjust="spacingAndGlyphs">70</text>
<text x="529" y="542" font-size="16" font-weight="normal" fill="#1a1a1a" text-anchor="middle" textLength="16" lengthAdjust="spacingAndGlyphs">70</text>
<text x="4" y="93.8" font-size="16.3" font-weight="normal" fill="#1a1a1a" text-anchor="start" textLength="148.6" lengthAdjust="spacingAndGlyphs">Jan 2023 (Oct 2024)</text>
<text x="286.3" y="48.6" font-size="33.3" font-weight="bold" fill="#111" text-anchor="start" textLength="452.8" lengthAdjust="spacingAndGlyphs">DXY Weekly Technical Outlook</text></svg>
</body></html>
